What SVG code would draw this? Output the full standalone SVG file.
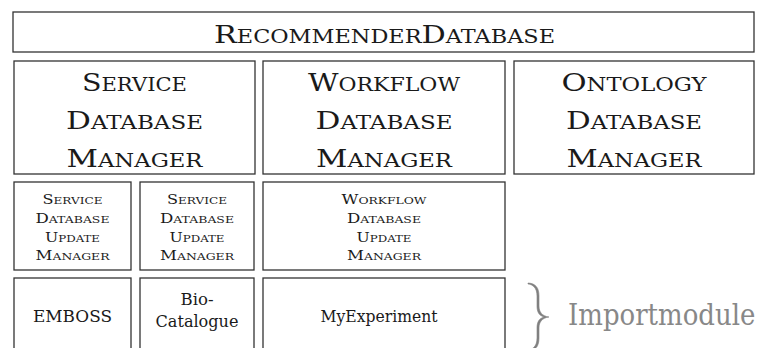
<svg xmlns="http://www.w3.org/2000/svg" width="764" height="348" viewBox="0 0 764 348">
  <style>
    .box { fill: #ffffff; stroke: #333333; stroke-width: 1.3; }
    text { fill: #1a1a1a; text-anchor: middle; }
    .big { font-size: 25px; }
    .big .sc { font-size: 18.5px; }
    .small { font-size: 12px; }
    .small .sc { font-size: 9px; }
    .plain { font-size: 16px; }
    .note { font-size: 26px; fill: #888888; text-anchor: start; }
    .brace { fill: #808080; stroke: #808080; stroke-width: 0.6; stroke-linejoin: round; }
  </style>
  <rect width="764" height="348" fill="#ffffff"/>

  <g font-family="'DejaVu Serif', 'Liberation Serif', serif">
  <!-- top layer -->
  <g id="recommender-database">
    <rect class="box" x="13" y="12" width="741" height="40"/>
    <text class="big" x="384.5" y="43" textLength="341" lengthAdjust="spacingAndGlyphs">R<tspan class="sc">ECOMMENDER</tspan>D<tspan class="sc">ATABASE</tspan></text>
  </g>

  <!-- database managers -->
  <g id="service-database-manager">
    <rect class="box" x="14" y="61" width="241" height="113"/>
    <text class="big" x="134.5" y="91" textLength="105" lengthAdjust="spacingAndGlyphs">S<tspan class="sc">ERVICE</tspan></text>
    <text class="big" x="134.5" y="129" textLength="137" lengthAdjust="spacingAndGlyphs">D<tspan class="sc">ATABASE</tspan></text>
    <text class="big" x="134.5" y="167" textLength="136" lengthAdjust="spacingAndGlyphs">M<tspan class="sc">ANAGER</tspan></text>
  </g>
  <g id="workflow-database-manager">
    <rect class="box" x="263" y="61" width="242" height="113"/>
    <text class="big" x="384" y="91" textLength="152" lengthAdjust="spacingAndGlyphs">W<tspan class="sc">ORKFLOW</tspan></text>
    <text class="big" x="384" y="129" textLength="137" lengthAdjust="spacingAndGlyphs">D<tspan class="sc">ATABASE</tspan></text>
    <text class="big" x="384" y="167" textLength="136" lengthAdjust="spacingAndGlyphs">M<tspan class="sc">ANAGER</tspan></text>
  </g>
  <g id="ontology-database-manager">
    <rect class="box" x="514" y="61" width="240" height="113"/>
    <text class="big" x="634" y="91" textLength="145" lengthAdjust="spacingAndGlyphs">O<tspan class="sc">NTOLOGY</tspan></text>
    <text class="big" x="634" y="129" textLength="136" lengthAdjust="spacingAndGlyphs">D<tspan class="sc">ATABASE</tspan></text>
    <text class="big" x="634" y="167" textLength="135" lengthAdjust="spacingAndGlyphs">M<tspan class="sc">ANAGER</tspan></text>
  </g>

  <!-- update managers -->
  <g id="service-update-manager-1">
    <rect class="box" x="14" y="182" width="117" height="88"/>
    <text class="small" x="72.5" y="204" textLength="60" lengthAdjust="spacingAndGlyphs">S<tspan class="sc">ERVICE</tspan></text>
    <text class="small" x="72.5" y="223" textLength="74" lengthAdjust="spacingAndGlyphs">D<tspan class="sc">ATABASE</tspan></text>
    <text class="small" x="72.5" y="242" textLength="55" lengthAdjust="spacingAndGlyphs">U<tspan class="sc">PDATE</tspan></text>
    <text class="small" x="72.5" y="260" textLength="74" lengthAdjust="spacingAndGlyphs">M<tspan class="sc">ANAGER</tspan></text>
  </g>
  <g id="service-update-manager-2">
    <rect class="box" x="140" y="182" width="114" height="88"/>
    <text class="small" x="197" y="204" textLength="60" lengthAdjust="spacingAndGlyphs">S<tspan class="sc">ERVICE</tspan></text>
    <text class="small" x="197" y="223" textLength="74" lengthAdjust="spacingAndGlyphs">D<tspan class="sc">ATABASE</tspan></text>
    <text class="small" x="197" y="242" textLength="55" lengthAdjust="spacingAndGlyphs">U<tspan class="sc">PDATE</tspan></text>
    <text class="small" x="197" y="260" textLength="74" lengthAdjust="spacingAndGlyphs">M<tspan class="sc">ANAGER</tspan></text>
  </g>
  <g id="workflow-update-manager">
    <rect class="box" x="263" y="182" width="242" height="88"/>
    <text class="small" x="384" y="204" textLength="85" lengthAdjust="spacingAndGlyphs">W<tspan class="sc">ORKFLOW</tspan></text>
    <text class="small" x="384" y="223" textLength="74" lengthAdjust="spacingAndGlyphs">D<tspan class="sc">ATABASE</tspan></text>
    <text class="small" x="384" y="242" textLength="55" lengthAdjust="spacingAndGlyphs">U<tspan class="sc">PDATE</tspan></text>
    <text class="small" x="384" y="260" textLength="74" lengthAdjust="spacingAndGlyphs">M<tspan class="sc">ANAGER</tspan></text>
  </g>

  <!-- import modules (run past the bottom edge) -->
  <g id="emboss">
    <rect class="box" x="14" y="278" width="117" height="80"/>
    <text class="plain" x="72.5" y="322" textLength="79" lengthAdjust="spacingAndGlyphs">EMBOSS</text>
  </g>
  <g id="biocatalogue">
    <rect class="box" x="140" y="278" width="114" height="80"/>
    <text class="plain" x="197" y="305" textLength="33" lengthAdjust="spacingAndGlyphs">Bio-</text>
    <text class="plain" x="197" y="327" textLength="83" lengthAdjust="spacingAndGlyphs">Catalogue</text>
  </g>
  <g id="myexperiment">
    <rect class="box" x="263" y="278" width="242" height="80"/>
    <text class="plain" x="379" y="322" textLength="117" lengthAdjust="spacingAndGlyphs">MyExperiment</text>
  </g>

  <!-- brace and label for the import modules -->
  <g id="importmodule-label">
    <path class="brace" d="M528,283 C536,283.5 539,288 539,296 L539,306 C539,312 542,316 549,317 C542,318 539,322 539,328 L539,338 C539,346 536,350.5 528,351 L528,350 C533,349.5 537,346 537,338 L537,328 C537,322 539,318.5 544,317 C539,315.5 537,312 537,306 L537,296 C537,288 533,284.5 528,284 Z"/>
    <text class="note" transform="translate(568,325) scale(1,1.15)" x="0" y="0">Importmodule</text>
  </g>
  </g>
</svg>
